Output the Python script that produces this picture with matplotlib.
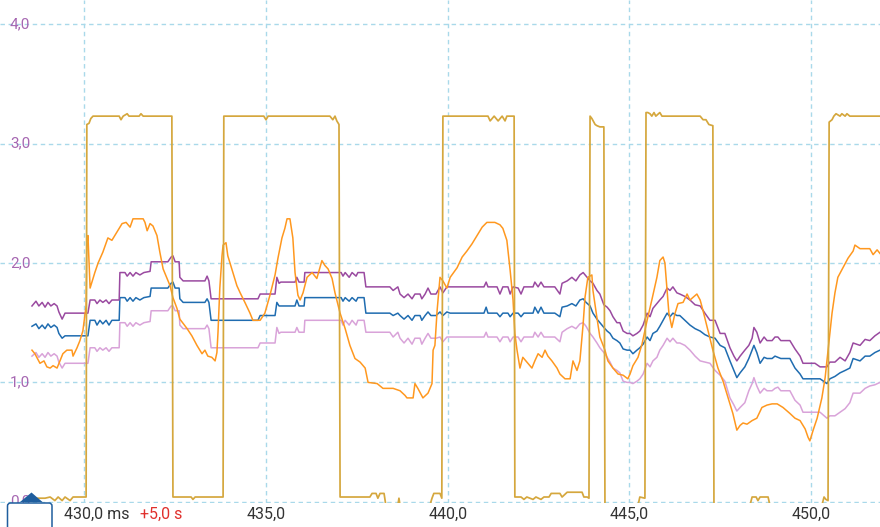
import matplotlib
matplotlib.use("Agg")
import matplotlib.pyplot as plt
from matplotlib.patches import Polygon, FancyBboxPatch
from matplotlib.transforms import IdentityTransform, blended_transform_factory

# ---------------- data ----------------
# time axis in ms (shared by the three bus-voltage traces)
t_bus = [
    428.56, 428.67, 428.75, 428.84, 428.92, 429.00, 429.08, 429.17, 429.25, 429.30, 429.39, 429.47,
    430.10, 430.16, 430.29, 430.35, 430.43, 430.51, 430.60, 430.68, 430.76, 430.96,
    430.98, 431.12, 431.18, 431.26, 431.34, 431.42, 431.53, 431.64, 431.81,
    431.84, 432.30, 432.39, 432.44, 432.50, 432.61,
    432.63, 432.72, 433.32, 433.38, 433.43,
    433.49, 434.78, 434.84, 435.25,
    435.30, 435.36, 435.41, 435.80, 435.85, 435.91, 436.05,
    436.07, 437.07, 437.12, 437.18, 437.29, 437.37, 437.48, 437.53, 437.70,
    437.75, 438.41, 438.50, 438.63, 438.69, 438.80, 438.91, 439.02, 439.10, 439.24, 439.29, 439.38,
    439.46, 439.54, 439.68, 439.79, 439.87, 439.98,
    440.07, 441.00, 441.06, 441.11, 441.36, 441.44, 441.52, 441.66, 441.72, 441.80, 441.94, 442.02,
    442.10, 442.35, 442.40, 442.49, 442.57, 442.65, 442.95,
    443.09, 443.15, 443.29, 443.42, 443.53, 443.64, 443.73, 443.81, 443.92, 444.00, 444.11, 444.19,
    444.30, 444.39, 444.47, 444.55, 444.66, 444.74, 444.83, 444.94, 445.02, 445.10, 445.21, 445.29,
    445.38, 445.49, 445.57, 445.65, 445.76, 445.84, 445.93, 446.04, 446.12, 446.20, 446.31, 446.39,
    446.53, 446.67, 446.81, 446.95, 447.08, 447.22, 447.36, 447.50, 447.63, 447.77, 447.88, 447.96,
    448.05, 448.18, 448.29, 448.38, 448.43, 448.51, 448.60, 448.71, 448.79, 448.93, 449.01, 449.09,
    449.17, 449.42, 449.56, 449.70, 449.78, 449.97, 450.11, 450.25, 450.44, 450.52, 450.66, 450.80,
    450.94, 451.07, 451.16, 451.35, 451.49, 451.62, 451.76, 451.90,
]

v_purple = [
    1.64, 1.68, 1.64, 1.67, 1.63, 1.67, 1.64, 1.66, 1.64, 1.59, 1.53, 1.58,
    1.58, 1.69, 1.69, 1.66, 1.69, 1.67, 1.69, 1.66, 1.69, 1.69,
    1.92, 1.92, 1.89, 1.92, 1.89, 1.92, 1.90, 1.92, 1.93,
    2.01, 2.01, 2.05, 2.06, 2.01, 2.01,
    1.88, 1.85, 1.85, 1.89, 1.85,
    1.70, 1.70, 1.74, 1.74,
    1.88, 1.83, 1.84, 1.84, 1.88, 1.84, 1.84,
    1.92, 1.92, 1.89, 1.92, 1.88, 1.92, 1.89, 1.92, 1.92,
    1.80, 1.80, 1.77, 1.80, 1.74, 1.71, 1.74, 1.70, 1.74, 1.74, 1.70, 1.74,
    1.79, 1.74, 1.74, 1.80, 1.75, 1.80,
    1.80, 1.80, 1.84, 1.80, 1.80, 1.74, 1.80, 1.80, 1.74, 1.80, 1.79, 1.74,
    1.80, 1.80, 1.84, 1.80, 1.84, 1.80, 1.80,
    1.74, 1.83, 1.85, 1.88, 1.85, 1.90, 1.92, 1.89, 1.85, 1.83, 1.77, 1.74,
    1.65, 1.63, 1.60, 1.55, 1.50, 1.50, 1.43, 1.41, 1.41, 1.39, 1.41, 1.43,
    1.48, 1.58, 1.55, 1.62, 1.66, 1.69, 1.72, 1.79, 1.77, 1.80, 1.75, 1.74,
    1.72, 1.69, 1.65, 1.64, 1.58, 1.52, 1.52, 1.41, 1.41, 1.29, 1.22, 1.18,
    1.22, 1.27, 1.31, 1.37, 1.46, 1.42, 1.33, 1.38, 1.35, 1.35, 1.38, 1.38,
    1.35, 1.35, 1.28, 1.22, 1.16, 1.16, 1.16, 1.13, 1.13, 1.17, 1.17, 1.21,
    1.18, 1.25, 1.33, 1.31, 1.36, 1.35, 1.39, 1.42,
]

v_blue = [
    1.47, 1.49, 1.45, 1.48, 1.45, 1.49, 1.46, 1.48, 1.46, 1.41, 1.37, 1.39,
    1.39, 1.52, 1.52, 1.48, 1.52, 1.49, 1.52, 1.48, 1.52, 1.52,
    1.71, 1.71, 1.68, 1.71, 1.68, 1.71, 1.69, 1.71, 1.72,
    1.79, 1.79, 1.83, 1.84, 1.79, 1.79,
    1.70, 1.67, 1.67, 1.70, 1.67,
    1.52, 1.52, 1.56, 1.56,
    1.67, 1.64, 1.64, 1.64, 1.69, 1.64, 1.64,
    1.71, 1.71, 1.68, 1.71, 1.68, 1.71, 1.68, 1.71, 1.71,
    1.58, 1.58, 1.56, 1.58, 1.56, 1.53, 1.56, 1.52, 1.56, 1.56, 1.52, 1.56,
    1.59, 1.56, 1.56, 1.59, 1.56, 1.59,
    1.58, 1.58, 1.63, 1.58, 1.58, 1.55, 1.58, 1.58, 1.55, 1.58, 1.58, 1.55,
    1.58, 1.58, 1.63, 1.58, 1.63, 1.58, 1.58,
    1.55, 1.63, 1.64, 1.66, 1.64, 1.69, 1.70, 1.67, 1.64, 1.58, 1.53, 1.50,
    1.46, 1.43, 1.41, 1.37, 1.35, 1.33, 1.28, 1.27, 1.27, 1.24, 1.27, 1.29,
    1.32, 1.38, 1.35, 1.41, 1.43, 1.47, 1.52, 1.58, 1.55, 1.58, 1.56, 1.56,
    1.52, 1.48, 1.45, 1.43, 1.40, 1.38, 1.37, 1.31, 1.29, 1.18, 1.10, 1.04,
    1.08, 1.13, 1.20, 1.27, 1.31, 1.25, 1.16, 1.21, 1.20, 1.20, 1.22, 1.21,
    1.20, 1.20, 1.12, 1.07, 1.03, 1.03, 1.03, 1.03, 0.99, 1.03, 1.05, 1.08,
    1.10, 1.12, 1.20, 1.18, 1.22, 1.22, 1.25, 1.27,
]

v_pink = [
    1.22, 1.25, 1.21, 1.24, 1.21, 1.25, 1.22, 1.24, 1.22, 1.17, 1.12, 1.16,
    1.16, 1.29, 1.29, 1.26, 1.29, 1.27, 1.29, 1.26, 1.29, 1.29,
    1.50, 1.50, 1.47, 1.50, 1.47, 1.50, 1.48, 1.50, 1.51,
    1.60, 1.60, 1.64, 1.64, 1.60, 1.60,
    1.48, 1.45, 1.45, 1.48, 1.45,
    1.29, 1.29, 1.33, 1.33,
    1.46, 1.41, 1.42, 1.42, 1.46, 1.42, 1.42,
    1.52, 1.52, 1.48, 1.52, 1.48, 1.52, 1.48, 1.52, 1.52,
    1.42, 1.42, 1.38, 1.42, 1.37, 1.33, 1.37, 1.32, 1.37, 1.37, 1.32, 1.37,
    1.41, 1.37, 1.37, 1.38, 1.34, 1.38,
    1.38, 1.38, 1.42, 1.38, 1.38, 1.34, 1.38, 1.38, 1.34, 1.38, 1.38, 1.34,
    1.38, 1.38, 1.42, 1.38, 1.42, 1.38, 1.38,
    1.34, 1.42, 1.45, 1.47, 1.45, 1.49, 1.50, 1.47, 1.41, 1.38, 1.33, 1.29,
    1.25, 1.21, 1.17, 1.12, 1.10, 1.08, 1.01, 1.00, 1.00, 0.99, 1.01, 1.03,
    1.07, 1.16, 1.13, 1.18, 1.21, 1.27, 1.31, 1.37, 1.34, 1.37, 1.33, 1.33,
    1.31, 1.27, 1.22, 1.18, 1.17, 1.16, 1.10, 1.06, 1.01, 0.87, 0.81, 0.76,
    0.79, 0.83, 0.93, 0.99, 1.04, 0.97, 0.91, 0.95, 0.93, 0.93, 0.95, 0.96,
    0.93, 0.93, 0.85, 0.81, 0.75, 0.75, 0.75, 0.75, 0.70, 0.72, 0.72, 0.75,
    0.78, 0.83, 0.91, 0.91, 0.95, 0.97, 0.98, 1.00,
]

t_orange = [
    428.56, 428.64, 428.78, 428.89, 428.97, 429.06, 429.14, 429.25, 429.33, 429.41, 429.52, 429.66,
    429.69, 429.80, 429.88, 429.96, 430.05, 430.07, 430.10, 430.13, 430.16, 430.21, 430.29, 430.38,
    430.51, 430.65, 430.76, 430.90, 431.04, 431.15, 431.26, 431.34, 431.62, 431.67, 431.73, 431.81,
    431.89, 432.00, 432.08, 432.17, 432.28, 432.36, 432.44, 432.55, 432.63, 432.83, 432.96, 433.10,
    433.24, 433.32, 433.40, 433.51, 433.60, 433.65, 433.68, 433.73, 433.79, 433.82, 433.90, 433.95,
    434.01, 434.09, 434.20, 434.29, 434.42, 434.56, 434.64, 434.84, 434.97, 435.11, 435.25, 435.33,
    435.44, 435.52, 435.58, 435.66, 435.74, 435.80, 435.88, 435.94, 436.02, 436.13, 436.27, 436.40,
    436.54, 436.62, 436.71, 436.82, 436.90, 437.04, 437.18, 437.31, 437.45, 437.59, 437.73, 437.81,
    438.06, 438.22, 438.50, 438.69, 438.83, 438.88, 439.05, 439.10, 439.18, 439.32, 439.46, 439.57,
    439.60, 439.65, 439.71, 439.79, 439.87, 439.98, 440.07, 440.26, 440.40, 440.53, 440.67, 440.81,
    440.95, 441.08, 441.30, 441.44, 441.52, 441.63, 441.72, 441.80, 441.85, 441.91, 441.99, 442.07,
    442.21, 442.32, 442.40, 442.49, 442.60, 442.68, 442.76, 442.87, 443.01, 443.09, 443.23, 443.37,
    443.45, 443.56, 443.64, 443.73, 443.78, 443.86, 443.97, 444.00, 444.11, 444.19, 444.33, 444.41,
    444.55, 444.69, 444.83, 444.96, 445.02, 445.10, 445.24, 445.35, 445.49, 445.62, 445.76, 445.84,
    445.93, 445.98, 446.04, 446.09, 446.17, 446.26, 446.34, 446.48, 446.59, 446.67, 446.86, 446.95,
    447.03, 447.17, 447.30, 447.44, 447.58, 447.72, 447.85, 447.96, 448.05, 448.13, 448.24, 448.38,
    448.51, 448.65, 448.79, 448.93, 449.07, 449.23, 449.42, 449.56, 449.70, 449.84, 449.92, 449.97,
    450.06, 450.17, 450.30, 450.39, 450.47, 450.58, 450.66, 450.74, 450.88, 451.02, 451.16, 451.21,
    451.35, 451.62, 451.71, 451.82, 451.90,
]

v_orange = [
    1.27, 1.24, 1.16, 1.18, 1.13, 1.12, 1.14, 1.12, 1.18, 1.24, 1.27, 1.27,
    1.22, 1.29, 1.35, 1.43, 1.64, 2.15, 2.23, 2.02, 1.79, 1.84, 1.92, 2.00,
    2.09, 2.21, 2.19, 2.26, 2.33, 2.34, 2.30, 2.37, 2.37, 2.34, 2.27, 2.33,
    2.31, 2.23, 2.09, 1.95, 1.87, 1.81, 1.71, 1.62, 1.53, 1.45, 1.39, 1.31,
    1.24, 1.27, 1.22, 1.21, 1.18, 1.25, 1.42, 1.79, 2.06, 2.15, 2.17, 2.06,
    2.00, 1.92, 1.81, 1.75, 1.67, 1.58, 1.52, 1.52, 1.58, 1.73, 1.90, 2.04,
    2.21, 2.29, 2.37, 2.37, 2.21, 1.92, 1.73, 1.69, 1.75, 1.88, 1.92, 1.87,
    2.02, 1.98, 1.95, 1.87, 1.75, 1.58, 1.45, 1.31, 1.20, 1.17, 1.12, 1.00,
    0.99, 0.95, 0.95, 0.93, 0.89, 0.87, 0.87, 0.99, 0.95, 0.87, 0.91, 0.99,
    1.27, 1.31, 1.60, 1.88, 1.85, 1.79, 1.88, 1.96, 2.05, 2.10, 2.16, 2.23,
    2.30, 2.34, 2.34, 2.32, 2.29, 2.19, 1.94, 1.69, 1.41, 1.27, 1.12, 1.21,
    1.16, 1.12, 1.18, 1.24, 1.21, 1.27, 1.22, 1.18, 1.12, 1.07, 1.03, 1.03,
    1.18, 1.10, 1.18, 1.49, 1.71, 1.88, 1.90, 1.77, 1.54, 1.38, 1.27, 1.18,
    1.12, 1.07, 1.06, 1.03, 1.07, 1.14, 1.21, 1.32, 1.52, 1.69, 1.88, 2.02,
    2.05, 2.00, 1.77, 1.58, 1.46, 1.58, 1.66, 1.67, 1.74, 1.69, 1.74, 1.69,
    1.60, 1.43, 1.27, 1.12, 1.01, 0.87, 0.74, 0.60, 0.64, 0.66, 0.65, 0.68,
    0.70, 0.79, 0.81, 0.82, 0.82, 0.79, 0.74, 0.70, 0.68, 0.61, 0.54, 0.51,
    0.60, 0.70, 0.87, 1.04, 1.27, 1.58, 1.75, 1.88, 1.96, 2.04, 2.10, 2.15,
    2.12, 2.12, 2.07, 2.11, 2.08,
]

t_gold = [
    428.59, 428.92, 429.06, 429.19, 429.28, 429.39, 429.47, 429.61, 429.69, 430.05,
    430.07, 430.13, 430.18, 430.24, 430.96, 431.01, 431.07, 431.18, 431.23, 431.51, 431.56, 431.62, 432.41,
    432.44, 432.94, 432.99, 433.05, 433.82,
    433.84, 434.94, 435.00, 435.06, 436.76, 436.84, 436.90, 436.95, 437.01,
    437.04, 437.86, 437.92, 438.03, 438.08, 438.14, 438.25, 438.30, 438.63, 438.66, 438.69,
    439.51, 439.57, 439.62, 439.79, 439.84,
    439.87, 441.11, 441.17, 441.28, 441.39, 441.50, 441.58, 441.63, 441.83,
    441.85, 442.02, 442.10, 442.18, 442.35, 442.43, 442.57, 442.65, 442.79, 442.85, 443.09,
    443.15, 443.29, 443.70, 443.75, 443.84, 443.89,
    443.92, 443.97, 444.06, 444.11, 444.19, 444.30,
    444.33, 445.24, 445.29, 445.43,
    445.46, 445.51, 445.57, 445.62, 445.68, 445.73, 445.84, 445.90, 446.95, 447.03, 447.11, 447.19, 447.30,
    447.33, 448.32, 448.38, 448.49, 448.54, 448.60, 448.82, 448.87, 450.30, 450.36, 450.41, 450.47,
    450.50, 450.58, 450.63, 450.69, 450.80, 450.85, 450.94, 450.99, 451.07, 451.90,
]

v_gold = [
    0.03, 0.03, 0.04, 0.01, 0.04, 0.01, 0.04, 0.01, 0.04, 0.04,
    3.16, 3.17, 3.21, 3.23, 3.23, 3.20, 3.23, 3.25, 3.23, 3.23, 3.25, 3.23, 3.23,
    0.04, 0.04, 0.02, 0.04, 0.04,
    3.23, 3.23, 3.20, 3.23, 3.23, 3.20, 3.23, 3.19, 3.16,
    0.04, 0.04, 0.07, 0.07, 0.03, 0.07, 0.07, -0.03, -0.03, 0.03, -0.03,
    -0.03, 0.03, 0.07, 0.07, 0.03,
    3.23, 3.23, 3.19, 3.23, 3.19, 3.23, 3.19, 3.23, 3.23,
    0.04, 0.04, 0.02, 0.04, 0.02, 0.04, 0.02, 0.04, 0.04, 0.07, 0.07,
    0.04, 0.08, 0.08, 0.04, 0.04, 0.03,
    3.23, 3.21, 3.16, 3.15, 3.14, 3.14,
    -0.03, -0.03, 0.04, 0.03,
    3.26, 3.26, 3.25, 3.23, 3.26, 3.23, 3.26, 3.23, 3.23, 3.20, 3.20, 3.16, 3.15,
    -0.03, -0.03, 0.04, 0.04, 0.01, 0.04, 0.04, -0.03, -0.03, 0.04, 0.02, 0.01,
    3.18, 3.20, 3.23, 3.25, 3.23, 3.25, 3.23, 3.25, 3.23, 3.23,
]

x_ticks = [430, 435, 440, 445, 450]
x_tick_labels = ["430,0 ms", "435,0", "440,0", "445,0", "450,0"]
y_ticks = [0, 1, 2, 3, 4]
y_tick_labels = ["0,0", "1,0", "2,0", "3,0", "4,0"]
offset_label = "+5,0 s"

# ---------------- styling ----------------
C_GOLD = "#d5a73d"
C_ORANGE = "#ff981f"
C_PURPLE = "#9a4aa0"
C_BLUE = "#1f6cb0"
C_PINK = "#d9a3d9"
C_GRID = "#a9d9ea"
C_YLAB = "#a667b2"
C_XLAB = "#333333"
C_RED = "#e0302c"
C_CURSOR = "#1f5e9e"

W, H = 880, 527
AX_BOTTOM_PX = 502.5          # pixel row (from top) of the plot's lower edge

fig = plt.figure(figsize=(W / 100, H / 100), dpi=100)
fig.patch.set_facecolor("white")
ax = fig.add_axes([0, (H - AX_BOTTOM_PX) / H, 1, AX_BOTTOM_PX / H])
ax.set_xlim(427.68, 451.90)
ax.set_ylim(-0.006, 4.2027)
for s in ax.spines.values():
    s.set_visible(False)
ax.set_xticks(x_ticks)
ax.set_yticks(y_ticks)
ax.tick_params(length=0, labelbottom=False, labelleft=False)
ax.grid(True, color=C_GRID, linestyle=(0, (3.2, 2.6)), linewidth=1.0, zorder=0)
ax.set_axisbelow(True)

lw = 1.1
ax.plot(t_bus, v_pink, color=C_PINK, lw=lw, zorder=2)
ax.plot(t_bus, v_blue, color=C_BLUE, lw=lw, zorder=3)
ax.plot(t_bus, v_purple, color=C_PURPLE, lw=lw, zorder=4)
ax.plot(t_orange, v_orange, color=C_ORANGE, lw=lw, zorder=5)
ax.plot(t_gold, v_gold, color=C_GOLD, lw=1.25, zorder=6)

FONT = ["Roboto", "DejaVu Sans"]

# y-axis labels drawn inside the plot on the left
ytrans = blended_transform_factory(ax.transAxes, ax.transData)
for val, lab in zip(y_ticks, y_tick_labels):
    ax.text(10 / W, val, lab, transform=ytrans, ha="left", va="center",
            color=C_YLAB, fontsize=11, family=FONT, zorder=7)

# x-axis labels below the plot
xtrans = ax.get_xaxis_transform()
y_lab = -(514 - AX_BOTTOM_PX) / AX_BOTTOM_PX
for val, lab in zip(x_ticks, x_tick_labels):
    if val == x_ticks[0]:
        ax.text(429.44, y_lab, lab, transform=xtrans, ha="left", va="center",
                color=C_XLAB, fontsize=11.5, family=FONT, clip_on=False)
    else:
        ax.text(val, y_lab, lab, transform=xtrans, ha="center", va="center",
                color=C_XLAB, fontsize=11.5, family=FONT, clip_on=False)
ax.text(431.53, y_lab, offset_label, transform=xtrans, ha="left", va="center",
        color=C_RED, fontsize=11.5, family=FONT, clip_on=False)


# cursor handle at the left edge (pixel coordinates, top-left origin)
def px(x, y):
    return (x, H - y)


box = FancyBboxPatch(px(7.5, 531), 44.5, 28, boxstyle="round,pad=0,rounding_size=3",
                     facecolor="white", edgecolor=C_CURSOR, linewidth=1.1,
                     transform=IdentityTransform(), zorder=8)
fig.add_artist(box)
tri = Polygon([px(20, 502), px(42.5, 502), px(31.5, 492.5)], closed=True,
              facecolor=C_CURSOR, edgecolor="none", transform=IdentityTransform(), zorder=9)
fig.add_artist(tri)

fig.savefig("out.png", dpi=100)
